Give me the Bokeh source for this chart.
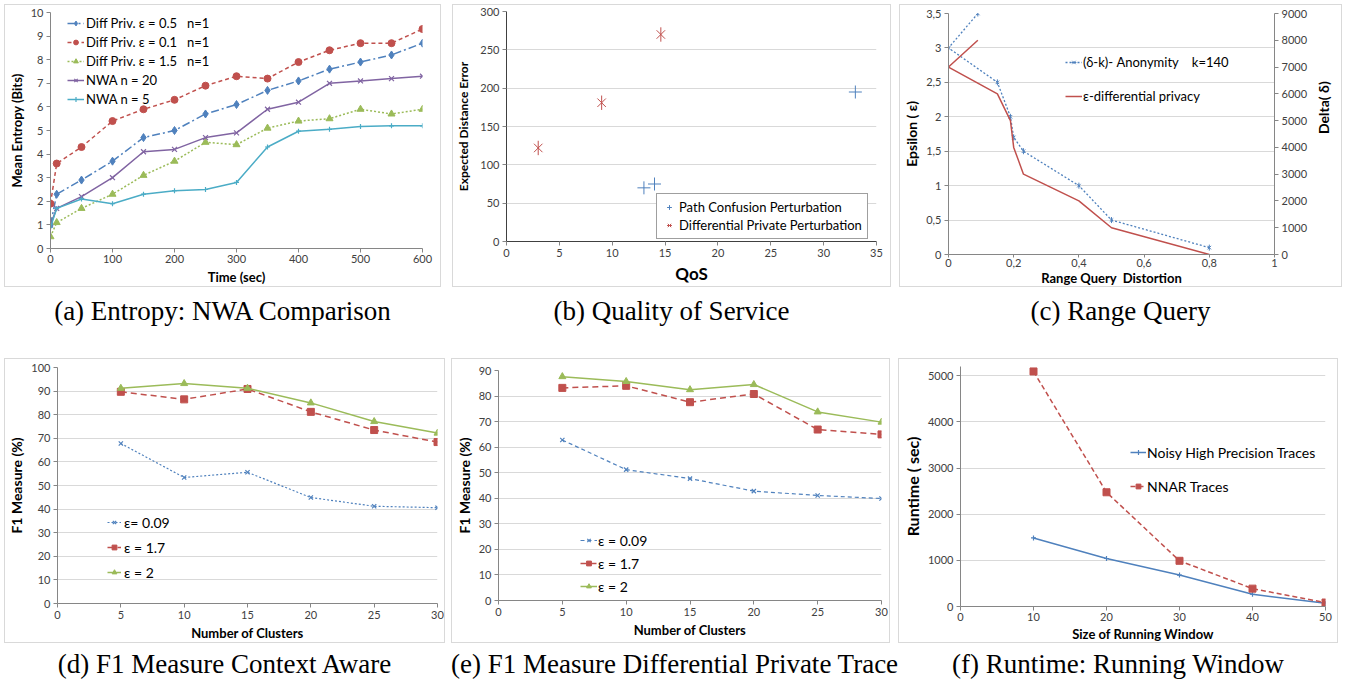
import math
from bokeh.plotting import figure
from bokeh.layouts import column, row
from bokeh.models import (Legend, LegendItem, LinearAxis, Range1d, FixedTicker, Div,
                          CustomJSTickFormatter)
from bokeh.embed import file_html
from bokeh.resources import INLINE

# ---------------- data ----------------
# (a) Entropy: NWA Comparison
time_sec = [0, 10, 50, 100, 150, 200, 250, 300, 350, 400, 450, 500, 550, 600]
dp_eps05 = [1.0, 2.3, 2.9, 3.7, 4.7, 5.0, 5.7, 6.1, 6.7, 7.1, 7.6, 7.9, 8.2, 8.7]
dp_eps01 = [1.9, 3.6, 4.3, 5.4, 5.9, 6.3, 6.9, 7.3, 7.2, 7.9, 8.4, 8.7, 8.7, 9.3]
dp_eps15 = [0.5, 1.1, 1.7, 2.3, 3.1, 3.7, 4.5, 4.4, 5.1, 5.4, 5.5, 5.9, 5.7, 5.9]
nwa_n20 = [1.0, 1.7, 2.2, 3.0, 4.1, 4.2, 4.7, 4.9, 5.9, 6.2, 7.0, 7.1, 7.2, 7.3]
nwa_n5 = [0.9, 1.7, 2.1, 1.9, 2.3, 2.45, 2.5, 2.8, 4.3, 4.97, 5.05, 5.17, 5.2, 5.2]

# (b) Quality of Service
pc_qos = [13, 14, 33]
pc_err = [70, 75, 195]
dpp_qos = [3, 9, 14.6]
dpp_err = [122, 181, 270]

# (c) Range Query
dk_dist = [0.09, 0.0, 0.15, 0.19, 0.2, 0.23, 0.4, 0.5, 0.8]
dk_eps = [3.5, 3.0, 2.5, 2.0, 1.7, 1.5, 1.0, 0.5, 0.1]
edp_dist = [0.09, 0.0, 0.15, 0.19, 0.2, 0.23, 0.4, 0.5, 0.8]
edp_delta = [8000, 7000, 6000, 5000, 4000, 3000, 2000, 1000, 0]

# (d) F1 Measure Context Aware
clusters = [5, 10, 15, 20, 25, 30]
ca_e009 = [67.8, 53.4, 55.6, 44.9, 41.2, 40.6]
ca_e17 = [89.7, 86.5, 90.9, 81.2, 73.5, 68.4]
ca_e2 = [91.2, 93.2, 91.2, 85.0, 77.1, 72.2]

# (e) F1 Measure Differential Private Trace
dpt_e009 = [62.8, 51.2, 47.7, 42.8, 41.1, 39.9]
dpt_e17 = [83.2, 84.0, 77.6, 80.8, 66.9, 65.0]
dpt_e2 = [87.6, 85.7, 82.5, 84.5, 73.8, 69.8]

# (f) Runtime: Running Window
window = [10, 20, 30, 40, 50]
noisy_rt = [1485, 1040, 681, 265, 72]
nnar_rt = [5093, 2475, 990, 387, 86]

captions = ["(a) Entropy: NWA Comparison", "(b) Quality of Service", "(c) Range Query",
            "(d) F1 Measure Context Aware", "(e) F1 Measure Differential Private Trace",
            "(f) Runtime: Running Window"]

# ---------------- style ----------------
FONT = "Lato"
BLUE = "#4F81BD"
RED = "#C0504D"
GREEN = "#9BBB59"
PURPLE = "#8064A2"
CYAN = "#4BACC6"
AXIS = "#868686"
GRID = "#d9d9d9"
TICKTXT = "#404040"


def style_axis(ax):
    ax.axis_line_color = AXIS
    ax.major_tick_line_color = AXIS
    ax.minor_tick_line_color = None
    ax.major_tick_in = 0
    ax.major_tick_out = 4
    ax.major_label_text_font = FONT
    ax.major_label_text_font_size = "11px"
    ax.major_label_text_color = TICKTXT
    ax.major_label_standoff = 3
    ax.axis_label_text_font = FONT
    ax.axis_label_text_font_style = "bold"
    ax.axis_label_text_font_size = "13px"
    ax.axis_label_text_color = "black"
    ax.axis_label_standoff = 3


def make_fig(w, h, xr, yr, borders, margin, xticks, yticks, grid=True):
    l, r, t, b = borders
    p = figure(width=w, height=h, x_range=Range1d(*xr), y_range=Range1d(*yr),
               output_backend="svg", toolbar_location=None,
               min_border_left=l, min_border_right=r, min_border_top=t,
               min_border_bottom=b, margin=margin)
    try:
        p.frame_align = False
    except Exception:
        pass
    p.outline_line_color = None
    p.styles = {"border": "1px solid #d9d9d9", "box-sizing": "border-box"}
    p.xaxis.ticker = FixedTicker(ticks=xticks)
    p.yaxis.ticker = FixedTicker(ticks=yticks)
    p.xgrid.grid_line_color = None
    if grid:
        p.ygrid.grid_line_color = GRID
        p.ygrid.ticker = FixedTicker(ticks=yticks)
    else:
        p.ygrid.grid_line_color = None
    for ax in p.axis:
        style_axis(ax)
    return p


def add_legend(p, items, loc, label_h, spacing, glyph_w, standoff, font_size,
               border=False, padding=0):
    lg = Legend(items=[LegendItem(label=lab, renderers=rs) for lab, rs in items],
                location=loc, label_height=label_h, spacing=spacing,
                glyph_width=glyph_w, glyph_height=12, label_standoff=standoff,
                label_text_font=FONT, label_text_font_size=font_size,
                label_text_color="black", padding=padding, margin=0)
    if border:
        lg.border_line_color = "#404040"
        lg.border_line_width = 1
        lg.background_fill_color = "white"
        lg.background_fill_alpha = 1
    else:
        lg.border_line_color = None
        lg.background_fill_alpha = 0
    p.add_layout(lg, "center")
    return lg


def star(p, x, y, color, size, y_range_name="default"):
    # Excel-like star marker: an "x" crossed by a vertical bar
    s1 = p.scatter(x, y, marker="x", size=size, line_color=color, line_width=1,
                   y_range_name=y_range_name)
    s2 = p.scatter(x, y, marker="dash", size=size * 1.2, angle=math.pi / 2,
                   line_color=color, line_width=1, y_range_name=y_range_name)
    return [s1, s2]


def series(p, x, y, color, dash, marker, msize, lw=1.5, y_range_name="default"):
    ln = p.line(x, y, line_color=color, line_width=lw, line_dash=dash,
                y_range_name=y_range_name)
    if marker is None:
        return [ln]
    if marker == "star":
        return [ln] + star(p, x, y, color, msize, y_range_name)
    sc = p.scatter(x, y, marker=marker, size=msize, line_color=color,
                   line_width=1.2 if marker in ("x", "cross") else 1,
                   fill_color=color, y_range_name=y_range_name)
    return [ln, sc]


NB = "\u00a0"

# ---------- (a) ----------
pa = make_fig(437, 283, (0, 600), (0, 10), (43, 20, 7, 40), (4, 0, 0, 4),
              list(range(0, 601, 100)), list(range(0, 11)), grid=False)
pa.xaxis.axis_label = "Time (sec)"
pa.yaxis.axis_label = "Mean Entropy (Bits)"
pa.xaxis.major_label_standoff = 2
ra1 = series(pa, time_sec, dp_eps05, BLUE, "8 3 2 3", "diamond", 8)
ra2 = series(pa, time_sec, dp_eps01, RED, "4 3", "circle", 7)
ra3 = series(pa, time_sec, dp_eps15, GREEN, "2 2", "triangle", 7)
ra4 = series(pa, time_sec, nwa_n20, PURPLE, "solid", "x", 7)
ra5 = series(pa, time_sec, nwa_n5, CYAN, "solid", "cross", 5)
add_legend(pa, [("Diff Priv. ε = 0.5" + NB * 3 + "n=1", ra1),
                ("Diff Priv. ε = 0.1" + NB * 3 + "n=1", ra2),
                ("Diff Priv. ε = 1.5" + NB * 3 + "n=1", ra3),
                ("NWA n = 20", ra4), ("NWA n = 5", ra5)],
           (17, 140), 19, 0, 17, 2, "13px")

# ---------- (b) ----------
pb = make_fig(439, 283, (0, 35), (0, 300), (53, 16, 6, 47), (4, 0, 0, 11),
              list(range(0, 36, 5)), list(range(0, 301, 50)))
pb.xaxis.axis_label = "QoS"
pb.xaxis.axis_label_text_font_size = "17px"
pb.xaxis.axis_label_standoff = 3
pb.yaxis.axis_label = "Expected Distance Error"
pb.yaxis.axis_label_text_font_size = "12px"
pb.yaxis.axis_label_standoff = 6
pb.yaxis.axis_line_color = "#404040"
pb.xaxis.axis_line_color = "#404040"
rb1 = [pb.scatter(pc_qos, pc_err, marker="cross", size=13, line_color=BLUE, line_width=1)]
rb2 = star(pb, dpp_qos, dpp_err, RED, 12)
add_legend(pb, [("Path Confusion Perturbation", rb1),
                ("Differential Private Perturbation", rb2)],
           (150, 2), 15, 2, 14, 3, "13px", border=True, padding=5)

# ---------- (c) ----------
pc = make_fig(443, 283, (0, 1), (0, 3.5), (48, 61, 8, 34), (4, 0, 0, 8),
              [0, 0.2, 0.4, 0.6, 0.8, 1.0], [0, 0.5, 1, 1.5, 2, 2.5, 3, 3.5])
pc.extra_y_ranges = {"delta": Range1d(0, 9000)}
rax = LinearAxis(y_range_name="delta", ticker=FixedTicker(ticks=list(range(0, 9001, 1000))))
style_axis(rax)
rax.axis_label = "Delta( δ)"
rax.axis_label_text_font_size = "14px"
rax.axis_label_standoff = 13
try:
    rax.axis_label_orientation = math.pi / 2
except Exception:
    pass
pc.add_layout(rax, "right")
pc.xaxis[0].formatter = CustomJSTickFormatter(
    code="return String(Math.round(tick*10)/10).replace('.', ',');")
pc.yaxis[0].formatter = CustomJSTickFormatter(
    code="return String(Math.round(tick*10)/10).replace('.', ',');")
pc.xaxis.axis_label = "Range Query" + NB + " Distortion"
pc.xaxis.axis_label_standoff = 0
pc.xaxis.major_label_standoff = 1
pc.xaxis.major_tick_out = 3
pc.yaxis[0].axis_label = "Epsilon ( ε)"
pc.yaxis[0].axis_label_text_font_size = "14px"
rc1 = series(pc, dk_dist, dk_eps, BLUE, "2 2", "star", 5, lw=1.3)
rc2 = series(pc, edp_dist, edp_delta, RED, "solid", None, 0, lw=1.5, y_range_name="delta")
add_legend(pc, [("(δ-k)- Anonymity" + NB * 4 + "k=140", rc1),
                ("ε-differential privacy", rc2)],
           (117, 148), 20, 14, 17, 1, "13px")

# ---------- (d) ----------
pd_ = make_fig(441, 285, (0, 30), (0, 100), (52, 9, 8, 41), (0, 0, 0, 4),
               list(range(0, 31, 5)), list(range(0, 101, 10)))
pd_.xaxis.axis_label = "Number of Clusters"
pd_.yaxis.axis_label = "F1 Measure (%)"
pd_.yaxis.axis_label_text_font_size = "14px"
rd1 = series(pd_, clusters, ca_e009, BLUE, "2 2", "x", 6, lw=1.2)
rd2 = series(pd_, clusters, ca_e17, RED, "6 4", "square", 7)
rd3 = series(pd_, clusters, ca_e2, GREEN, "solid", "triangle", 7)
add_legend(pd_, [("ε= 0.09", rd1), ("ε = 1.7", rd2), ("ε = 2", rd3)],
           (50, 21), 20, 5, 14, 3, "14px")

# ---------- (e) ----------
pe = make_fig(439, 285, (0, 30), (0, 90), (41, 10, 11, 44), (0, 0, 0, 6),
              list(range(0, 31, 5)), list(range(0, 91, 10)))
pe.xaxis.axis_label = "Number of Clusters"
pe.yaxis.axis_label = "F1 Measure (%)"
pe.yaxis.axis_label_text_font_size = "14px"
re1 = series(pe, clusters, dpt_e009, BLUE, "4 3", "x", 6, lw=1.2)
re2 = series(pe, clusters, dpt_e17, RED, "6 4", "square", 7)
re3 = series(pe, clusters, dpt_e2, GREEN, "solid", "triangle", 7)
add_legend(pe, [("ε = 0.09", re1), ("ε = 1.7", re2), ("ε = 2", re3)],
           (82, 4), 20, 3, 17, 1, "14px")

# ---------- (f) ----------
pf = make_fig(440, 285, (0, 50), (0, 5200), (57, 14, 7, 35), (0, 0, 0, 8),
              list(range(0, 51, 10)), list(range(0, 5001, 1000)))
pf.xaxis.axis_label = "Size of Running Window"
pf.xaxis.axis_label_standoff = 2
pf.xaxis.major_label_standoff = 2
pf.yaxis.axis_label = "Runtime ( sec)"
pf.yaxis.axis_label_text_font_size = "16px"
rf1 = series(pf, window, noisy_rt, BLUE, "solid", "cross", 5)
rf2 = series(pf, window, nnar_rt, RED, "5 3", "square", 7)
add_legend(pf, [("Noisy High Precision Traces", rf1), ("NNAR Traces", rf2)],
           (170, 110), 20, 14, 16, 1, "14px")


# ---------- captions ----------
def cap(text, w, h, pad, ml):
    return Div(text=f'<div style="padding-top:{pad}px;white-space:nowrap">{text}</div>',
               width=w, height=h, margin=(0, 0, 0, ml),
               styles={"font-family": "Liberation Serif", "font-size": "27px",
                       "text-align": "center", "color": "black", "overflow": "visible"})


top_caps = row(cap(captions[0], 437, 71, 5, 4), cap(captions[1], 439, 71, 5, 11),
               cap(captions[2], 443, 71, 5, 8))
bot_caps = row(cap(captions[3], 441, 35, 2, 4), cap(captions[4], 439, 35, 2, 6),
               cap(captions[5], 440, 35, 2, 8))

layout = column(row(pa, pb, pc), top_caps, row(pd_, pe, pf), bot_caps)

open("out.html", "w").write(file_html(layout, INLINE))
